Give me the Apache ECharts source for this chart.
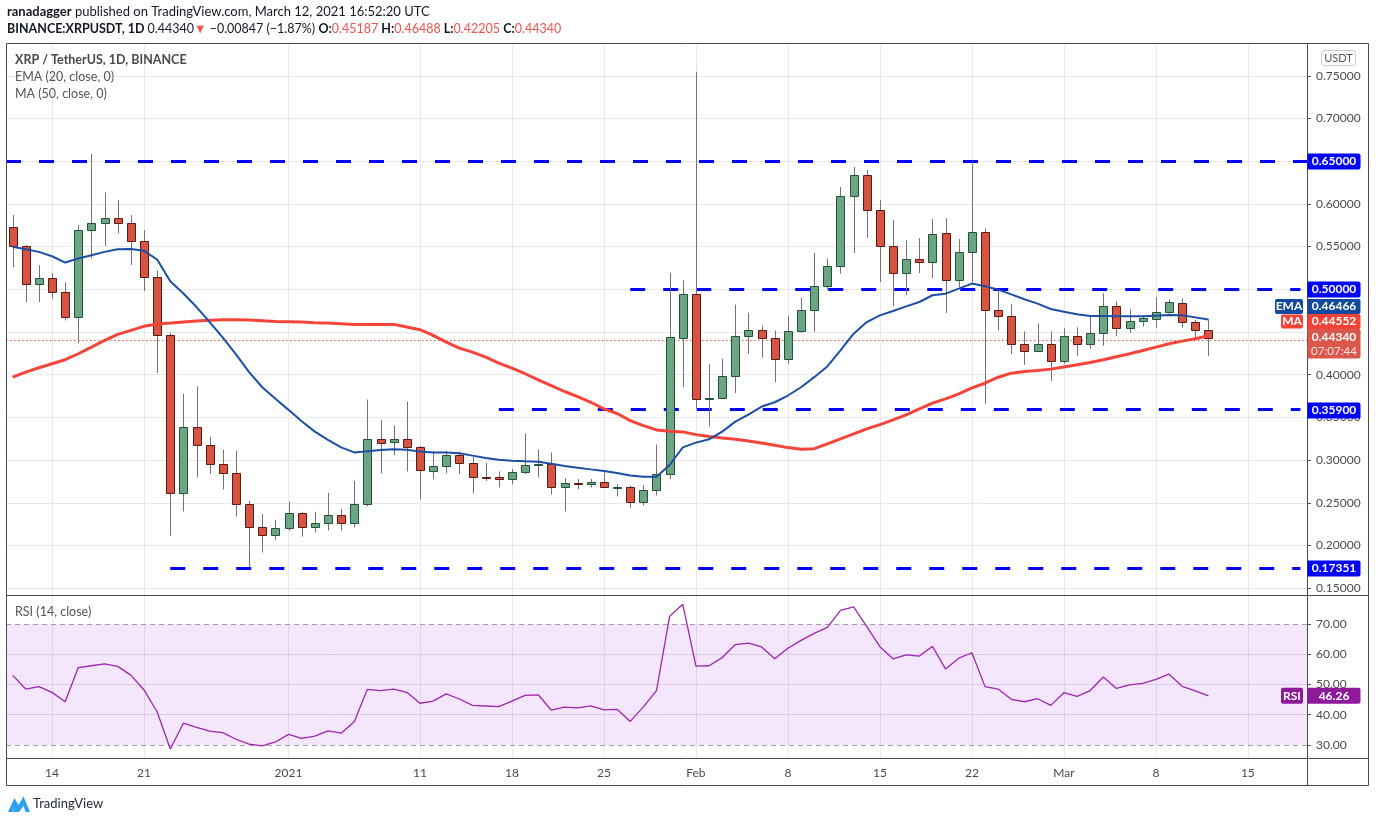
<!DOCTYPE html>
<html lang="en">
<head>
    <meta charset="UTF-8" />
    <title>XRP / TetherUS, 1D, BINANCE</title>
    <style>
        html,
        body {
            margin: 0;
            padding: 0;
            background: #fff;
        }

        #chart {
            width: 1376px;
            height: 823px;
        }
    </style>
</head>

<body>
    <div id="chart"></div>
</body>
<script type="text/javascript" src="https://cdn.jsdelivr.net/npm/echarts@6/dist/echarts.min.js"></script>
<script type="text/javascript">
    // daily categories, Dec 11 2020 .. Mar 19 2021 (last 7 are empty space on the right)
    var dates = [
        'Dec 11', 'Dec 12', 'Dec 13', 'Dec 14', 'Dec 15', 'Dec 16', 'Dec 17', 'Dec 18', 'Dec 19', 'Dec 20',
        'Dec 21', 'Dec 22', 'Dec 23', 'Dec 24', 'Dec 25', 'Dec 26', 'Dec 27', 'Dec 28', 'Dec 29', 'Dec 30', 'Dec 31',
        'Jan 1', 'Jan 2', 'Jan 3', 'Jan 4', 'Jan 5', 'Jan 6', 'Jan 7', 'Jan 8', 'Jan 9', 'Jan 10',
        'Jan 11', 'Jan 12', 'Jan 13', 'Jan 14', 'Jan 15', 'Jan 16', 'Jan 17', 'Jan 18', 'Jan 19', 'Jan 20',
        'Jan 21', 'Jan 22', 'Jan 23', 'Jan 24', 'Jan 25', 'Jan 26', 'Jan 27', 'Jan 28', 'Jan 29', 'Jan 30', 'Jan 31',
        'Feb 1', 'Feb 2', 'Feb 3', 'Feb 4', 'Feb 5', 'Feb 6', 'Feb 7', 'Feb 8', 'Feb 9', 'Feb 10',
        'Feb 11', 'Feb 12', 'Feb 13', 'Feb 14', 'Feb 15', 'Feb 16', 'Feb 17', 'Feb 18', 'Feb 19', 'Feb 20',
        'Feb 21', 'Feb 22', 'Feb 23', 'Feb 24', 'Feb 25', 'Feb 26', 'Feb 27', 'Feb 28',
        'Mar 1', 'Mar 2', 'Mar 3', 'Mar 4', 'Mar 5', 'Mar 6', 'Mar 7', 'Mar 8', 'Mar 9', 'Mar 10',
        'Mar 11', 'Mar 12', 'Mar 13', 'Mar 14', 'Mar 15', 'Mar 16', 'Mar 17', 'Mar 18', 'Mar 19'
    ];

    var opens = [
        .5724, .5501, .5067, .5137, .4973, .468, .5689, .5771, .583, .5771, .556, .5149, .4468, .2614, .3389, .3177, .2954, .2849, .2485, .2215, .2124,
        .2203, .2379, .2215, .2262, .2356, .2262, .2485, .3248, .3213, .3248, .3154, .2872, .2931, .306, .2966, .2802, .2796, .2778, .286, .2942,
        .2954, .2684, .2731, .272, .2743, .2684, .2684, .2508, .2649, .2837, .4433,
        .4949, .3717, .3729, .3979, .4457, .4527, .4433, .4187, .4515, .4762, .5043, .5278, .6088, .6335, .5924, .5501, .5196, .5349, .5325, .5654,
        .5114, .5442, .5665, .4762, .4691, .4363, .4281, .4363,
        .4163, .4457, .4363, .4492, .4809, .455, .4633, .4656, .4738, .4844, .4621, .45187
    ];
    var highs = [
        .5869, .5516, .5282, .519, .508, .5751, .6585, .6135, .6045, .5869, .5692, .5223, .4492, .3776, .3862, .3275, .3122, .311, .2523, .2367, .23,
        .2512, .2394, .2394, .2617, .2426, .2758, .3709, .3474, .3404, .3685, .3165, .3107, .3107, .3095, .3036, .2969, .2867, .2896, .331, .3122,
        .3087, .279, .2778, .2778, .2855, .272, .2703, .2708, .3181, .519, .5106,
        .7547, .412, .4187, .482, .4727, .4574, .4515, .4691, .4903, .5426, .536, .6197, .6432, .6397, .6045, .581, .5575, .5599, .5822, .5833,
        .5587, .6499, .5712, .4988, .4824, .4507, .4601, .4507,
        .4542, .4554, .4695, .4953, .4859, .4765, .4695, .4906, .4883, .4894, .4644, .46488
    ];
    var lows = [
        .5255, .4851, .4851, .489, .4636, .437, .536, .5508, .5654, .5285, .498, .4018, .2113, .2398, .2797, .2837, .2656, .2339, .1749, .1917, .2062,
        .2171, .2104, .2152, .2175, .2175, .221, .2457, .2844, .3055, .2867, .2539, .2773, .2844, .2837, .2609, .2755, .268, .2715, .2837, .2797,
        .2597, .2398, .266, .268, .268, .2574, .2438, .2468, .2586, .2778, .3853,
        .36, .3396, .372, .3787, .4245, .4198, .3912, .4128, .4492, .4504, .4996, .5184, .5426, .5602, .5086, .4804, .4933, .5191, .5133, .4722,
        .5027, .5086, .3658, .4515, .4241, .4116, .4269, .3928,
        .4128, .4222, .4304, .4339, .4452, .4492, .4562, .455, .4715, .455, .441, .42205
    ];
    var closes = [
        .5501, .5067, .5137, .4973, .468, .5689, .5771, .583, .5771, .556, .5149, .4468, .2614, .3389, .3177, .2954, .2849, .2485, .2215, .2124, .2203,
        .2379, .2215, .2262, .2356, .2262, .2485, .3248, .3201, .3248, .3154, .2884, .2931, .306, .2966, .2802, .2796, .2778, .286, .2942, .2954,
        .2684, .2731, .272, .2743, .2684, .2689, .2508, .2649, .2837, .4445, .4949,
        .3717, .3729, .3979, .4457, .4527, .4433, .4187, .4515, .4762, .5043, .5278, .6088, .6335, .5924, .5501, .5196, .5349, .5325, .5646, .5114,
        .5442, .5665, .4762, .4691, .4363, .4281, .4363, .4163,
        .4457, .4363, .4492, .4809, .455, .4633, .4668, .4738, .4856, .4621, .4519, .4434
    ];

    // EMA (20) and MA (50)
    var ema20 = [
        .5497, .547, .5438, .5387, .5313, .536, .5399, .5438, .547, .5473, .545, .5349, .5094, .495, .4792, .4616, .4433, .4237, .403, .3853, .3717,
        .3588, .3454, .3333, .3236, .3149, .309, .3102, .3118, .3126, .3122, .3099, .309, .309, .3079, .3052, .3024, .3005, .2993, .2985, .2981,
        .2958, .2931, .2911, .2891, .2872, .2849, .282, .2805, .2805, .2942, .3149,
        .3204, .3243, .3333, .345, .3533, .3627, .3677, .3756, .3853, .3971, .4096, .4284, .448, .4616, .4695, .4745, .48, .4851, .493, .4949,
        .5008, .5067, .5035, .4996, .4941, .4883, .4832, .4769,
        .4738, .4707, .4687, .4687, .4683, .4683, .4683, .4691, .4698, .4695, .4671, .46466
    ];
    var ma50 = [
        .3971, .403, .4081, .4128, .4175, .4245, .4323, .4401, .4472, .4519, .4566, .4593, .4604, .4616, .4628, .4636, .4644, .4644, .464, .4632, .4624,
        .4621, .4616, .4609, .4604, .4597, .4589, .4589, .4589, .4589, .4558, .4527, .446, .4382, .4311, .4264, .4206, .4135, .4077, .4011, .394,
        .3873, .3803, .3744, .3677, .36, .3545, .3462, .3404, .3353, .3337, .333,
        .3298, .3275, .3259, .3243, .3224, .32, .3173, .3146, .3126, .3134, .3189, .3248, .3306, .3365, .3415, .347, .3529, .36, .3666, .3717,
        .3776, .3846, .39, .397, .4018, .4038, .405, .4065,
        .4089, .4116, .4143, .4175, .421, .4245, .4284, .4323, .4363, .4393, .4421, .44552
    ];
    var rsi14 = [
        53.1, 48.5, 49.3, 47.4, 44.3, 55.6, 56.2, 56.8, 56.0, 53.1, 48.2, 41.0, 28.7, 37.2, 35.8, 34.6, 34.1, 31.9, 30.3, 29.7, 31.0,
        33.5, 32.2, 32.9, 34.7, 33.9, 37.7, 48.4, 48.0, 48.5, 47.4, 43.8, 44.5, 46.9, 45.2, 43.1, 42.9, 42.7, 44.5, 46.4, 46.6,
        41.5, 42.5, 42.3, 42.9, 41.6, 41.8, 37.8, 42.6, 48.0, 72.6, 76.5,
        56.1, 56.2, 58.9, 63.2, 63.7, 62.4, 58.5, 62.0, 64.6, 66.9, 68.9, 74.5, 75.7, 69.1, 62.5, 58.5, 59.8, 59.4, 62.6, 55.1,
        58.7, 60.5, 49.3, 48.5, 45.1, 44.3, 45.3, 43.1,
        47.3, 46.1, 48.0, 52.5, 48.7, 49.9, 50.4, 51.7, 53.4, 49.4, 47.9, 46.26
    ];

    // drawn support / resistance lines
    var levelValues = [0.65, 0.5, 0.359, 0.17351];
    var levelStarts = [null, 'Jan 27', 'Jan 17', 'Dec 23'];
    var levelEnd = 'Mar 19';

    // ticks
    var priceTicks = [0.15, 0.20, 0.25, 0.30, 0.35, 0.40, 0.45, 0.50, 0.55, 0.60, 0.65, 0.70, 0.75];
    var rsiTicks = [30, 40, 50, 60, 70];
    var xTicks = ['Dec 14', 'Dec 21', 'Jan 1', 'Jan 11', 'Jan 18', 'Jan 25', 'Feb 1', 'Feb 8', 'Feb 15', 'Feb 22', 'Mar 1', 'Mar 8', 'Mar 15'];
    var xTickText = ['14', '21', '2021', '11', '18', '25', 'Feb', '8', '15', '22', 'Mar', '8', '15'];

    var lastPrice = 0.4434;

    var UP = '#6ba583', UP_BORDER = '#225437';
    var DOWN = '#d75442', DOWN_BORDER = '#5b1a13';
    var WICK = '#737375';
    var EMA_COLOR = '#1c4fa4', MA_COLOR = '#f5443a', RSI_COLOR = '#9c27b0';
    var LEVEL_BLUE = '#0000ff';
    var FONT = 'Lato, "Noto Sans", sans-serif';

    var candles = [];
    for (var i = 0; i < closes.length; i++) {
        candles.push([i, opens[i], closes[i], lows[i], highs[i]]);
    }

    var vGrid = xTicks.map(function (d) { return { xAxis: d }; });
    var hGrid = priceTicks.map(function (v) { return { yAxis: v }; });

    var levelLines = levelValues.map(function (v, k) {
        if (levelStarts[k] === null) return { yAxis: v };
        return [{ coord: [levelStarts[k], v] }, { coord: [levelEnd, v] }];
    });

    var chart = echarts.init(document.getElementById('chart'));

    var option = {
        animation: false,
        backgroundColor: '#ffffff',
        textStyle: { fontFamily: FONT },
        grid: [
            { left: 6, right: 69, top: 43, height: 552 },
            { left: 6, right: 69, top: 596, height: 162 }
        ],
        xAxis: [
            {
                type: 'category', gridIndex: 0, data: dates, boundaryGap: true,
                axisLine: { show: false }, axisTick: { show: false }, axisLabel: { show: false }, splitLine: { show: false }
            },
            {
                type: 'category', gridIndex: 1, data: dates, boundaryGap: true,
                axisLine: { show: false }, axisTick: { show: false }, splitLine: { show: false },
                axisLabel: {
                    color: '#4a4a4a', fontSize: 12, margin: 9, fontFamily: FONT,
                    interval: function (idx, val) { return xTicks.indexOf(val) >= 0; },
                    formatter: function (val) { return xTickText[xTicks.indexOf(val)]; }
                }
            }
        ],
        yAxis: [
            {
                type: 'value', gridIndex: 0, position: 'right', min: 0.142, max: 0.7884,
                splitLine: { show: false }, axisLine: { show: false },
                axisTick: { show: true, length: 4, lineStyle: { color: '#555' }, customValues: priceTicks },
                axisLabel: {
                    color: '#4a4a4a', fontSize: 12, margin: 9, fontFamily: FONT, customValues: priceTicks,
                    formatter: function (v) { return v.toFixed(5); }
                }
            },
            {
                type: 'value', gridIndex: 1, position: 'right', min: 25.7, max: 79.26,
                splitLine: { show: false }, axisLine: { show: false },
                axisTick: { show: true, length: 4, lineStyle: { color: '#555' }, customValues: rsiTicks },
                axisLabel: {
                    color: '#4a4a4a', fontSize: 12, margin: 9, fontFamily: FONT, customValues: rsiTicks,
                    formatter: function (v) { return v.toFixed(2); }
                }
            }
        ],
        series: [
            {
                // price pane grid lines
                type: 'line', xAxisIndex: 0, yAxisIndex: 0, data: [], z: 1, silent: true,
                markLine: {
                    silent: true, symbol: ['none', 'none'], label: { show: false },
                    lineStyle: { color: '#e9e9e9', width: 1, type: 'solid' },
                    data: vGrid.concat(hGrid)
                }
            },
            {
                name: 'XRPUSDT', type: 'custom', xAxisIndex: 0, yAxisIndex: 0, z: 5,
                encode: { x: 0, y: [1, 2, 3, 4] },
                data: candles,
                renderItem: function (params, api) {
                    var x = api.value(0);
                    var o = api.value(1), c = api.value(2), l = api.value(3), h = api.value(4);
                    var pO = api.coord([x, o]), pC = api.coord([x, c]);
                    var pL = api.coord([x, l]), pH = api.coord([x, h]);
                    var band = api.size([1, 0])[0];
                    var w = Math.round(band * 0.63);
                    var cx = Math.round(pO[0]) + 0.5;
                    var top = Math.round(Math.min(pO[1], pC[1])) + 0.5;
                    var bot = Math.round(Math.max(pO[1], pC[1])) + 0.5;
                    var up = c >= o;
                    return {
                        type: 'group',
                        children: [
                            {
                                type: 'line',
                                shape: { x1: cx, y1: pH[1], x2: cx, y2: pL[1] },
                                style: { stroke: WICK, lineWidth: 1 }
                            },
                            {
                                type: 'rect',
                                shape: { x: cx - w / 2, y: top, width: w, height: Math.max(bot - top, 1) },
                                style: { fill: up ? UP : DOWN, stroke: up ? UP_BORDER : DOWN_BORDER, lineWidth: 1 }
                            }
                        ]
                    };
                }
            },
            {
                name: 'MA', type: 'line', xAxisIndex: 0, yAxisIndex: 0, data: ma50, z: 6,
                symbol: 'none', lineStyle: { color: MA_COLOR, width: 3 }
            },
            {
                name: 'EMA', type: 'line', xAxisIndex: 0, yAxisIndex: 0, data: ema20, z: 7,
                symbol: 'none', lineStyle: { color: EMA_COLOR, width: 2 }
            },
            {
                // author's lines and the last price line
                type: 'line', xAxisIndex: 0, yAxisIndex: 0, data: [], z: 8, silent: true,
                markLine: {
                    silent: true, symbol: ['none', 'none'], label: { show: false },
                    lineStyle: { color: LEVEL_BLUE, width: 3, type: [15, 18] },
                    data: levelLines.concat([{
                        yAxis: lastPrice,
                        lineStyle: { color: '#e0574a', width: 1, type: [1.5, 2.5] }
                    }])
                }
            },
            {
                // rsi pane background band and grid lines
                type: 'line', xAxisIndex: 1, yAxisIndex: 1, data: [], z: 1, silent: true,
                markArea: {
                    silent: true,
                    itemStyle: { color: '#f3e6fd' },
                    data: [[{ yAxis: 30 }, { yAxis: 70 }]]
                },
                markLine: {
                    silent: true, symbol: ['none', 'none'], label: { show: false },
                    data: vGrid.map(function (d) {
                        return { xAxis: d.xAxis, lineStyle: { color: 'rgba(0,0,0,0.085)', width: 1, type: 'solid' } };
                    }).concat([40, 50, 60].map(function (v) {
                        return { yAxis: v, lineStyle: { color: '#dccbe6', width: 1, type: 'solid' } };
                    })).concat([30, 70].map(function (v) {
                        return { yAxis: v, lineStyle: { color: '#a89fab', width: 1, type: [5, 4] } };
                    }))
                }
            },
            {
                name: 'RSI', type: 'line', xAxisIndex: 1, yAxisIndex: 1, data: rsi14, z: 5,
                symbol: 'none', lineStyle: { color: RSI_COLOR, width: 1.3 }
            }
        ]
    };

    chart.setOption(option);

    // overlays: header, frame, legends, axis value boxes
    function py(v) { return chart.convertToPixel({ yAxisIndex: 0 }, v); }
    function ry(v) { return chart.convertToPixel({ yAxisIndex: 1 }, v); }

    var AX = 1307;
    function valueBox(yc, h, text, color) {
        return [{
            type: 'rect', z: 50,
            shape: { x: AX + 0.5, y: yc - h / 2, width: 53, height: h, r: [0, 2, 2, 0] },
            style: { fill: color }
        }, {
            type: 'text', z: 51, x: AX + 27, y: yc,
            style: { text: text, fill: '#fff', font: 'bold 12px ' + FONT, align: 'center', verticalAlign: 'middle' }
        }];
    }
    function tagBox(yc, h, x1, text, color) {
        return [{
            type: 'rect', z: 50,
            shape: { x: x1, y: yc - h / 2, width: AX - 4 - x1, height: h, r: 2 },
            style: { fill: color }
        }, {
            type: 'text', z: 51, x: (x1 + AX - 4) / 2, y: yc,
            style: { text: text, fill: '#fff', font: 'bold 12px ' + FONT, align: 'center', verticalAlign: 'middle' }
        }];
    }
    function label(x, y, text, font, color, rich) {
        var s = { text: text, font: font, fill: color, align: 'left', verticalAlign: 'middle' };
        if (rich) s.rich = rich;
        return { type: 'text', z: 30, x: x, y: y, style: s };
    }

    var g = [];

    // header
    var hb = { fontWeight: 'bold', fontSize: 13, fontFamily: FONT, fill: '#131722' };
    var hb2 = { fontWeight: 'bold', fontSize: 12.5, fontFamily: FONT, fill: '#131722' };
    var hr = { fontSize: 12.5, fontFamily: FONT, fill: '#ef5350' };
    g.push(label(7, 12, '{b|ranadagger} published on TradingView.com, March 12, 2021 16:52:20 UTC',
        '13px ' + FONT, '#131722', { b: hb }));
    g.push(label(7, 29, '{b|BINANCE:XRPUSDT, 1D} 0.44340{r|▼} −0.00847 (−1.87%) {b|O:}{r|0.45187} {b|H:}{r|0.46488} {b|L:}{r|0.42205} {b|C:}{r|0.44340}',
        '12.5px ' + FONT, '#131722', { b: hb2, r: hr }));

    // frame and pane separators
    var frameColor = '#4a4a4a';
    g.push({ type: 'rect', z: 40, shape: { x: 6.5, y: 43.5, width: 1362, height: 742 }, style: { fill: null, stroke: frameColor, lineWidth: 1 } });
    g.push({ type: 'line', z: 40, shape: { x1: 6, y1: 595.5, x2: 1369, y2: 595.5 }, style: { stroke: frameColor, lineWidth: 1 } });
    g.push({ type: 'line', z: 40, shape: { x1: 6, y1: 758.5, x2: 1369, y2: 758.5 }, style: { stroke: frameColor, lineWidth: 1 } });
    g.push({ type: 'line', z: 40, shape: { x1: AX + 0.5, y1: 43, x2: AX + 0.5, y2: 786 }, style: { stroke: frameColor, lineWidth: 1 } });

    // pane legends
    g.push(label(15, 60, 'XRP / TetherUS, 1D, BINANCE', 'bold 12.5px ' + FONT, '#4a4a4a'));
    g.push(label(15, 77, 'EMA (20, close, 0)', '12.5px ' + FONT, '#555'));
    g.push(label(15, 94, 'MA (50, close, 0)', '12.5px ' + FONT, '#555'));
    g.push(label(15, 612, 'RSI (14, close)', '12.5px ' + FONT, '#555'));

    // currency box
    g.push({ type: 'rect', z: 30, shape: { x: 1321.5, y: 50.5, width: 34, height: 15, r: 3 }, style: { fill: '#fff', stroke: '#c9c9c9', lineWidth: 1 } });
    g.push({ type: 'text', z: 31, x: 1338.5, y: 58, style: { text: 'USDT', font: '11px ' + FONT, fill: '#555', align: 'center', verticalAlign: 'middle' } });

    // level boxes on the price axis
    levelValues.forEach(function (v) {
        g = g.concat(valueBox(Math.round(py(v)) + 0.5, 16, v.toFixed(5), LEVEL_BLUE));
    });

    // last price, MA and EMA boxes, stacked upward so they do not overlap
    var yP = py(lastPrice);
    var priceTop = yP - 8.5;
    g.push({ type: 'rect', z: 50, shape: { x: AX + 0.5, y: priceTop, width: 53, height: 29.5, r: [0, 2, 2, 0] }, style: { fill: '#d9574b' } });
    g.push({ type: 'text', z: 51, x: AX + 27, y: yP, style: { text: lastPrice.toFixed(5), fill: '#fff', font: 'bold 12px ' + FONT, align: 'center', verticalAlign: 'middle' } });
    g.push({ type: 'text', z: 51, x: AX + 27, y: yP + 14, style: { text: '07:07:44', fill: '#fbe3e0', font: '11.5px ' + FONT, align: 'center', verticalAlign: 'middle' } });

    var maLast = ma50[ma50.length - 1], emaLast = ema20[ema20.length - 1];
    var maC = Math.min(py(maLast), priceTop - 7.5);
    g = g.concat(valueBox(maC, 15, maLast.toFixed(5), '#f44336'));
    g = g.concat(tagBox(maC, 14, 1281, 'MA', '#f44336'));
    var emaC = Math.min(py(emaLast), maC - 15);
    g = g.concat(valueBox(emaC, 15, emaLast.toFixed(5), '#144a9e'));
    g = g.concat(tagBox(emaC, 15, 1275, 'EMA', '#144a9e'));

    var rsiLast = rsi14[rsi14.length - 1];
    var rC = ry(rsiLast);
    g = g.concat(valueBox(rC, 16, rsiLast.toFixed(2), '#8e1a9a'));
    g = g.concat(tagBox(rC, 16, 1281, 'RSI', '#8e1a9a'));

    // TradingView mark
    g.push({
        type: 'polygon', z: 30,
        shape: { points: [[8, 812], [14.5, 798], [18.5, 805], [23.5, 796.5], [30, 812], [25.5, 812], [23.5, 806], [19, 812], [13, 812], [14.5, 806.5], [12.5, 812]] },
        style: { fill: '#2f9ff0' }
    });
    g.push(label(33, 804, 'TradingView', '13px ' + FONT, '#262b3e'));

    chart.setOption({ graphic: g });

    window.onresize = function () {
        chart.resize();
    };
</script>

</html>
